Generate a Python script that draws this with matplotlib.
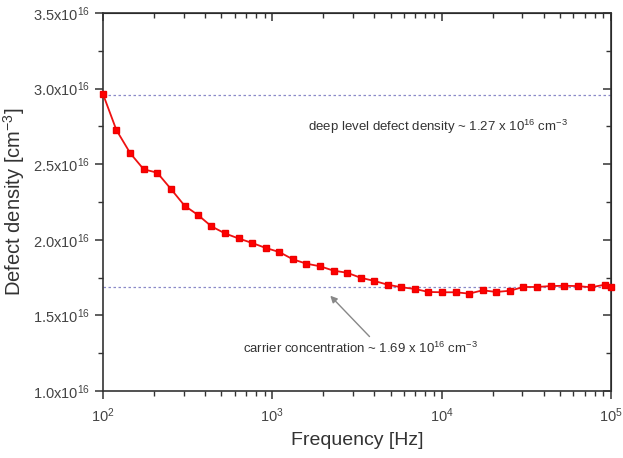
import matplotlib
matplotlib.use("Agg")
import matplotlib.pyplot as plt
from matplotlib.ticker import FixedLocator, LogLocator, NullFormatter, MultipleLocator, FuncFormatter

plt.rcParams['font.family'] = ['Liberation Sans', 'DejaVu Sans']
plt.rcParams['mathtext.fontset'] = 'custom'
plt.rcParams['mathtext.rm'] = 'Liberation Sans'
plt.rcParams['mathtext.it'] = 'Liberation Sans'

# frequency sweep [Hz]
freq = [100, 120, 145, 174, 209, 252, 303, 364, 437, 526, 632, 760, 915,
        1100, 1322, 1590, 1912, 2300, 2765, 3325, 3998, 4808, 5781, 6951,
        8358, 10050, 12090, 14540, 17480, 21020, 25280, 30400, 36550,
        43950, 52850, 63550, 76420, 91900, 100000]
# defect density [1e16 cm^-3]
density = [2.964, 2.726, 2.572, 2.466, 2.444, 2.336, 2.226, 2.164, 2.089,
           2.042, 2.009, 1.979, 1.946, 1.919, 1.871, 1.842, 1.825, 1.796,
           1.782, 1.749, 1.728, 1.703, 1.686, 1.675, 1.655, 1.653, 1.653,
           1.644, 1.666, 1.655, 1.663, 1.688, 1.688, 1.694, 1.696, 1.694,
           1.686, 1.703, 1.690]
deep_level = 2.96
carrier = 1.69
yticks = [1.0, 1.5, 2.0, 2.5, 3.0, 3.5]

fig = plt.figure(figsize=(6.23, 4.58), dpi=100)
ax = fig.add_axes([0.1653, 0.1463, 0.8154, 0.8253])

ax.plot(freq, [d * 1e16 for d in density], color='#ee1111', lw=1.3,
        marker='s', markersize=4.5, markerfacecolor='#ff0000',
        markeredgecolor='#ee0000', zorder=3, clip_on=False)
ax.axhline(deep_level * 1e16, color='#8a8ac8', lw=0.9, ls=(0, (2, 2)))
ax.axhline(carrier * 1e16, color='#8a8ac8', lw=0.9, ls=(0, (2, 2)))

ax.set_xscale('log')
ax.set_xlim(100, 1e5)
ax.set_ylim(1.0e16, 3.5e16)
ax.xaxis.set_major_locator(LogLocator(base=10, numticks=10))
ax.xaxis.set_minor_locator(LogLocator(base=10, subs=range(2, 10), numticks=10))
ax.xaxis.set_minor_formatter(NullFormatter())
ax.yaxis.set_major_locator(FixedLocator([v * 1e16 for v in yticks]))
ax.yaxis.set_minor_locator(MultipleLocator(0.25e16))
ax.yaxis.set_major_formatter(FuncFormatter(lambda v, p: r"%.1fx10$^{16}$" % (v / 1e16)))

for s in ax.spines.values():
    s.set_linewidth(1.2)
    s.set_color('#333333')

ax.tick_params(which='both', direction='out', top=False, right=False,
               labelsize=10.5, colors='#333333', labelcolor='#444444')
ax.tick_params(which='major', length=6, width=1.1)
ax.tick_params(which='minor', length=3.5, width=1.0)
ax.tick_params(axis='x', which='major', pad=5)

# inward ticks on top and right, Origin style
sec_x = ax.secondary_xaxis('top')
sec_x.xaxis.set_major_locator(LogLocator(base=10, numticks=10))
sec_x.xaxis.set_minor_locator(LogLocator(base=10, subs=range(2, 10), numticks=10))
sec_x.tick_params(which='both', direction='in', labeltop=False, colors='#333333')
sec_x.tick_params(which='major', length=6, width=1.1)
sec_x.tick_params(which='minor', length=3.5, width=1.0)
sec_x.xaxis.set_minor_formatter(NullFormatter())
sec_x.xaxis.set_major_formatter(NullFormatter())
sec_y = ax.secondary_yaxis('right')
sec_y.yaxis.set_major_locator(FixedLocator([v * 1e16 for v in yticks]))
sec_y.yaxis.set_minor_locator(MultipleLocator(0.25e16))
sec_y.tick_params(which='both', direction='in', labelright=False, colors='#333333')
sec_y.tick_params(which='major', length=6, width=1.1)
sec_y.tick_params(which='minor', length=3.5, width=1.0)
sec_y.yaxis.set_major_formatter(NullFormatter())

ax.set_xlabel('Frequency [Hz]', fontsize=14, color='#333333')
ax.set_ylabel(r'Defect density [cm$^{-3}$]', fontsize=14.5, color='#333333')
ax.xaxis.set_label_coords(0.5, -0.108)
ax.yaxis.set_label_coords(-0.15, 0.5)

ax.text(9500, 2.75e16, r'deep level defect density ~ 1.27 x 10$^{16}$ cm$^{-3}$',
        ha='center', va='center', fontsize=9.5, color='#333333')
ax.text(3300, 1.285e16, r'carrier concentration ~ 1.69 x 10$^{16}$ cm$^{-3}$',
        ha='center', va='center', fontsize=9.5, color='#333333')
ax.annotate('', xy=(2200, 1.63e16), xytext=(3750, 1.36e16),
            arrowprops=dict(arrowstyle='-|>', color='#888888', lw=1.0,
                            mutation_scale=10, shrinkA=0, shrinkB=0))

fig.savefig('out.png', dpi=100)
